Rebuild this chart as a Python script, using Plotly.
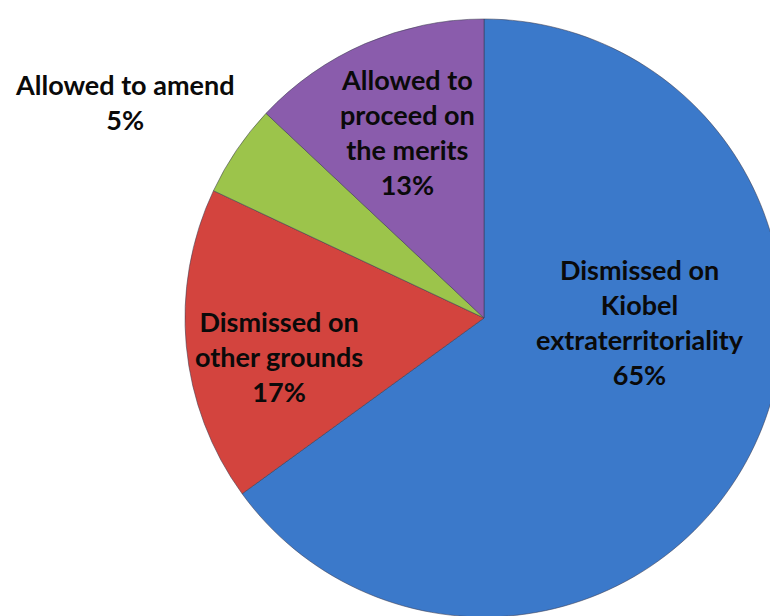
import plotly.graph_objects as go

# ---- data ----
categories = ["Dismissed on Kiobel extraterritoriality",
              "Dismissed on other grounds",
              "Allowed to amend",
              "Allowed to proceed on the merits"]
label_lines = ["Dismissed on<br>Kiobel<br>extraterritoriality",
               "Dismissed on<br>other grounds",
               "Allowed to amend",
               "Allowed to<br>proceed on<br>the merits"]
values = [65, 17, 5, 13]
colors = ["#3B79CA", "#D3443E", "#9CC44B", "#8A5CAC"]

# ---- geometry (figure pixels) ----
W, H = 778, 616
cx, cy, r = 476, 310, 299
# label centre offsets from pie centre (pixels, +x right, +y down)
label_offsets = [(156, 4), (-205, 38), (-359, -216), (-77, -186)]

fig = go.Figure(go.Pie(
    labels=categories,
    values=values,
    sort=False,
    direction="clockwise",
    rotation=0,
    marker=dict(colors=colors, line=dict(color="rgba(60,60,80,0.55)", width=1)),
    textinfo="none",
    showlegend=False,
    domain=dict(x=[(cx - r) / W, (cx + r) / W],
                y=[1 - (cy + r) / H, 1 - (cy - r) / H]),
    hoverinfo="skip",
))

total = sum(values)
for txt, v, (dx, dy) in zip(label_lines, values, label_offsets):
    pct = round(100 * v / total)
    fig.add_annotation(
        x=(cx + dx) / W, y=1 - (cy + dy) / H,
        xref="paper", yref="paper",
        xanchor="center", yanchor="middle",
        text=f"<b>{txt}<br>{pct}%</b>",
        showarrow=False, align="center",
        font=dict(family="Lato", size=27, color="#0a0a0a"),
    )

fig.update_layout(
    width=W, height=H,
    margin=dict(l=0, r=0, t=0, b=0),
    paper_bgcolor="white",
    plot_bgcolor="white",
)
fig.write_html("out.html")
